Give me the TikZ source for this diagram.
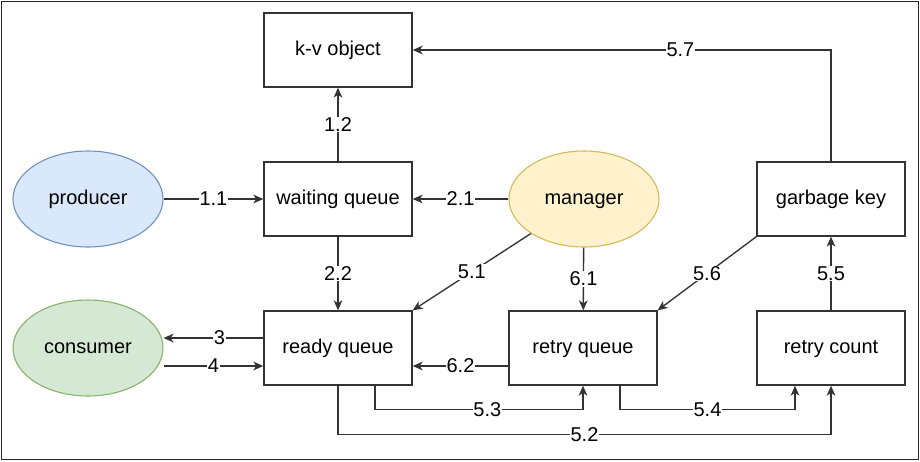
\documentclass[tikz,border=0pt]{standalone}
\usepackage{fontspec}
\setmainfont{Liberation Sans}
\usetikzlibrary{shapes.geometric,arrows.meta}
\definecolor{linec}{HTML}{333333}
\definecolor{prodfill}{HTML}{DAE8FC}\definecolor{prodline}{HTML}{6C8EBF}
\definecolor{consfill}{HTML}{D5E8D4}\definecolor{consline}{HTML}{82B366}
\definecolor{manfill}{HTML}{FFF2CC}\definecolor{manline}{HTML}{D6B656}
\tikzset{
  box/.style={draw=linec, line width=1pt, fill=white, minimum width=111pt, minimum height=55.5pt, inner sep=0pt, text height=1.0em, text depth=0.2em, font=\fontsize{15pt}{18pt}\selectfont},
  oval/.style={ellipse, line width=0.8pt, minimum width=112.5pt, minimum height=72pt, inner sep=0pt, text height=1.0em, text depth=0.2em, font=\fontsize{15pt}{18pt}\selectfont},
  arr/.style={draw=linec, line width=1pt, -{Stealth[length=7.5pt,width=6.5pt,inset=2.2pt]}},
  lbl/.style={fill=white, inner sep=0.5pt, font=\fontsize{15pt}{18pt}\selectfont}
}
\begin{document}
\begin{tikzpicture}[x=0.75pt,y=-0.75pt]
\useasboundingbox (0,0) rectangle (920,461);
\draw[line width=1pt, black!85] (1.5,1.5) rectangle (918.5,459.5);
\node[box] (kv) at (338,50) {k-v object};
\node[box] (wait) at (338,199) {waiting queue};
\node[box] (ready) at (338,348) {ready queue};
\node[box] (retry) at (583,348) {retry queue};
\node[box] (count) at (831,348) {retry count};
\node[box] (garbage) at (831,199) {garbage key};
\node[oval, fill=prodfill, draw=prodline] (producer) at (88,199) {producer};
\node[oval, fill=consfill, draw=consline] (consumer) at (88,348) {consumer};
\node[oval, fill=manfill, draw=manline] (manager) at (584,199) {manager};

\draw[arr] (producer) -- (wait) node[lbl, pos=0.5] {1.1};
\draw[arr] (wait) -- (kv) node[lbl, pos=0.5] {1.2};
\draw[arr] (manager) -- (wait) node[lbl, pos=0.5] {2.1};
\draw[arr] (wait) -- (ready) node[lbl, pos=0.5] {2.2};
\draw[arr] ([yshift=7.5pt]ready.west) -- ([yshift=7.5pt]ready.west -| consumer.east) node[lbl, pos=0.44] {3};
\draw[arr] ([yshift=-13.5pt]ready.west -| consumer.east) -- ([yshift=-13.5pt]ready.west) node[lbl, pos=0.5] {4};
\draw[arr] (manager) -- (ready.north east) node[lbl, pos=0.5] {5.1};
\draw[arr] (manager) -- (retry) node[lbl, pos=0.5] {6.1};
\draw[arr] ([yshift=-13.5pt]retry.west) -- ([yshift=-13.5pt]ready.east) node[lbl, pos=0.5] {6.2};
\draw[arr] ([xshift=27.75pt]ready.south) -- ++(0,24) -| (retry.south) node[lbl, pos=0.27] {5.3};
\draw[arr] ([xshift=27.75pt]retry.south) -- ++(0,24) -| ([xshift=-27pt]count.south) node[lbl, pos=0.25] {5.4};
\draw[arr] (ready.south) -- ++(0,49) -| (count.south) node[lbl, pos=0.25] {5.2};
\draw[arr] (count) -- (garbage) node[lbl, pos=0.5] {5.5};
\draw[arr] (garbage.south west) -- (retry.north east) node[lbl, pos=0.5] {5.6};
\draw[arr] (garbage.north) |- (kv.east) node[lbl, pos=0.68] {5.7};
\end{tikzpicture}
\end{document}
